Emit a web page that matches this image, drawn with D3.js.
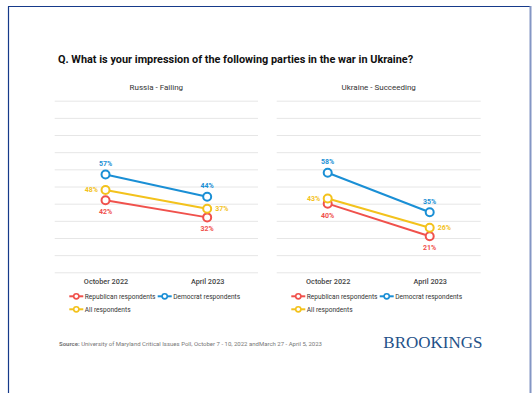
<!DOCTYPE html>
<html><head><meta charset="utf-8">
<script src="https://cdn.jsdelivr.net/npm/d3@7"></script>
<style>
html,body{margin:0;padding:0;background:#fff;}
svg{display:block;font-family:Roboto,"Noto Sans",sans-serif;}
</style></head>
<body>
<svg id="chart" width="532" height="393"></svg>
<script>
const periods = ["October 2022", "April 2023"];
const panelTitles = ["Russia - Failing", "Ukraine - Succeeding"];
const seriesNames = ["Republican respondents", "Democrat respondents", "All respondents"];
const seriesColors = ["#f0514c", "#1a8fd5", "#f3c21c"];
// values per panel, per series [Oct 2022, Apr 2023]
const russiaRep = [42, 32];
const russiaDem = [57, 44];
const russiaAll = [48, 37];
const ukraineRep = [40, 21];
const ukraineDem = [58, 35];
const ukraineAll = [43, 26];
const yTicks = [0,10,20,30,40,50,60,70,80,90,100];

const panels = [
  {title: panelTitles[0], series: [russiaRep, russiaDem, russiaAll], x0: 54.7, x1: 258},
  {title: panelTitles[1], series: [ukraineRep, ukraineDem, ukraineAll], x0: 276.7, x1: 480.7}
];

const svg = d3.select("#chart");

// frame
svg.append("line").attr("x1",8.5).attr("x2",8.5).attr("y1",6.5).attr("y2",393).attr("stroke","#163a8a").attr("stroke-width",1.2);
svg.append("line").attr("x1",8).attr("x2",530).attr("y1",6.5).attr("y2",6.5).attr("stroke","#163a8a").attr("stroke-width",1.2);
svg.append("line").attr("x1",530.5).attr("x2",530.5).attr("y1",6).attr("y2",393).attr("stroke","#8496c4").attr("stroke-width",2);

svg.append("text").attr("x",58).attr("y",63)
  .attr("font-size",10.9).attr("font-weight",700).attr("fill","#111")
  .text("Q. What is your impression of the following parties in the war in Ukraine?");

const y = d3.scaleLinear().domain([0,100]).range([272.3,100.7]);

panels.forEach(p => {
  const g = svg.append("g");
  const x = d3.scalePoint().domain(periods).range([p.x0, p.x1]).padding(0.5);
  g.append("text").attr("x",(p.x0+p.x1)/2).attr("y",90).attr("text-anchor","middle")
    .attr("font-size",8).attr("fill","#333").text(p.title);
  // grid
  const yAxis = d3.axisLeft(y).tickValues(yTicks).tickSize(-(p.x1-p.x0)).tickFormat("");
  const ga = g.append("g").attr("transform",`translate(${p.x0},0)`).call(yAxis);
  ga.select(".domain").remove();
  ga.selectAll(".tick line").attr("stroke","#e6e6e6").attr("stroke-width",1);
  // x axis labels
  const xAxis = d3.axisBottom(x).tickSize(0).tickPadding(0);
  const gx = g.append("g").attr("transform",`translate(0,279)`).call(xAxis);
  gx.select(".domain").remove();
  gx.selectAll(".tick text").attr("font-size",7.3).attr("font-weight",500).attr("fill","#444")
    .attr("font-family","Roboto, sans-serif").attr("dy","0.71em");

  const line = d3.line().x((d,i)=>x(periods[i])).y(d=>y(d));
  p.series.forEach((s,si) => {
    g.append("path").datum(s).attr("d",line).attr("fill","none")
      .attr("stroke",seriesColors[si]).attr("stroke-width",2);
  });
  p.series.forEach((s,si) => {
    s.forEach((v,i) => {
      g.append("circle").attr("cx",x(periods[i])).attr("cy",y(v)).attr("r",4)
        .attr("fill","#fff").attr("stroke",seriesColors[si]).attr("stroke-width",2);
      let lx = x(periods[i]), ly = y(v), anchor = "middle", dy = "0.35em";
      if (si===1) { ly -= 11; }
      else if (si===0) { ly += 11.5; }
      else { anchor = i===0 ? "end" : "start"; lx += i===0 ? -7.5 : 8; }
      g.append("text").attr("x",lx).attr("y",ly).attr("dy",dy).attr("text-anchor",anchor)
        .attr("font-size",7).attr("font-weight",700).attr("fill",seriesColors[si]).text(v+"%");
    });
  });

  // legend
  const legPos = [[p.x0+14.6, 296.3],[p.x0+103, 296.3],[p.x0+14.6, 309.3]];
  seriesNames.forEach((n,si) => {
    const [lx,ly] = legPos[si];
    const lg = g.append("g").attr("transform",`translate(${lx},${ly})`);
    lg.append("line").attr("x1",0).attr("x2",14).attr("y1",0).attr("y2",0).attr("stroke",seriesColors[si]).attr("stroke-width",2);
    lg.append("circle").attr("cx",7).attr("cy",0).attr("r",2.6).attr("fill","#fff").attr("stroke",seriesColors[si]).attr("stroke-width",1.6);
    lg.append("text").attr("x",15.5).attr("y",0).attr("dy","0.35em").attr("font-size",6.6).attr("fill","#333").text(n);
  });
});

const src = svg.append("text").attr("x",59).attr("y",345.5).attr("font-size",6).attr("fill","#777");
src.append("tspan").attr("font-weight",700).text("Source: ");
src.append("tspan").text("University of Maryland Critical Issues Poll, October 7 - 10, 2022 andMarch 27 - April 5, 2023");

svg.append("text").attr("x",383.3).attr("y",347.5).attr("font-family","'Liberation Serif', 'DejaVu Serif', serif")
  .attr("font-size",17).attr("fill","#1f5289").text("BROOKINGS");
</script>
</body></html>
